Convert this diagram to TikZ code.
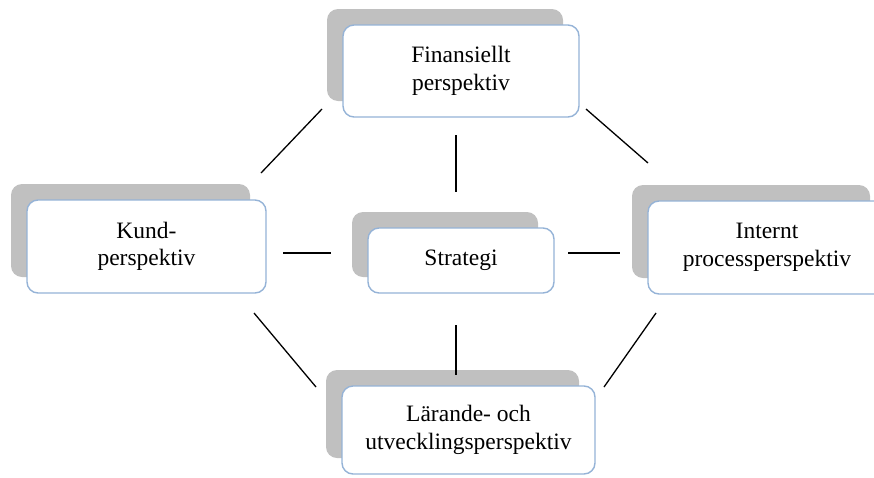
\documentclass[tikz,border=0pt]{standalone}
\usepackage{fontspec}
\setmainfont{Liberation Serif}
\usetikzlibrary{shadows}
\definecolor{frameblue}{RGB}{149,179,215}
\definecolor{backgray}{RGB}{192,192,192}
\tikzset{
  perspbox/.style={
    draw=frameblue, line width=1.4pt, fill=white,
    rounded corners=11pt, align=center,
    inner sep=0pt,
    font=\fontsize{23.5}{27.5}\selectfont,
    drop shadow={shadow xshift=-16pt, shadow yshift=16pt,
                 opacity=1, fill=backgray, draw=none}
  },
  link/.style={draw=black, line width=1.3pt}
}
\begin{document}
\begin{tikzpicture}[x=1pt, y=-1pt]
  \useasboundingbox (0,0) rectangle (874,477);

  % the five perspective boxes
  \node[perspbox, minimum width=236pt, minimum height=92pt] (fin)    at (461,71)    {Finansiellt\\perspektiv};
  \node[perspbox, minimum width=239pt, minimum height=93pt] (kund)   at (146.5,246.5) {Kund-\\perspektiv};
  \node[perspbox, minimum width=186pt, minimum height=65pt] (strat)  at (461,260.5) {Strategi};
  \node[perspbox, minimum width=238pt, minimum height=93pt] (intern) at (767,247.5) {Internt\\processperspektiv};
  \node[perspbox, minimum width=253pt, minimum height=88pt] (lar)    at (468.5,430) {Lärande- och\\utvecklingsperspektiv};

  % end points of the connecting strokes
  \coordinate (finK)  at (322,109);  \coordinate (kundF) at (261,173);
  \coordinate (finI)  at (586,109);  \coordinate (intF)  at (648,163);
  \coordinate (kundL) at (254,313);  \coordinate (larK)  at (316,387);
  \coordinate (intL)  at (656,313);  \coordinate (larI)  at (604,387);
  \coordinate (kundS) at (283,253);  \coordinate (strK)  at (331,253);
  \coordinate (strI)  at (568,253);  \coordinate (intS)  at (620,253);
  \coordinate (finS)  at (456,135);  \coordinate (strF)  at (456,192);
  \coordinate (strL)  at (456,325);  \coordinate (larS)  at (456,375);

  \draw[link] (kundF) -- (finK);
  \draw[link] (finI) -- (intF);
  \draw[link] (kundL) -- (larK);
  \draw[link] (intL) -- (larI);
  \draw[link] (kundS) -- (strK);
  \draw[link] (strI) -- (intS);
  \draw[link] (finS) -- (strF);
  \draw[link] (strL) -- (larS);
\end{tikzpicture}
\end{document}
